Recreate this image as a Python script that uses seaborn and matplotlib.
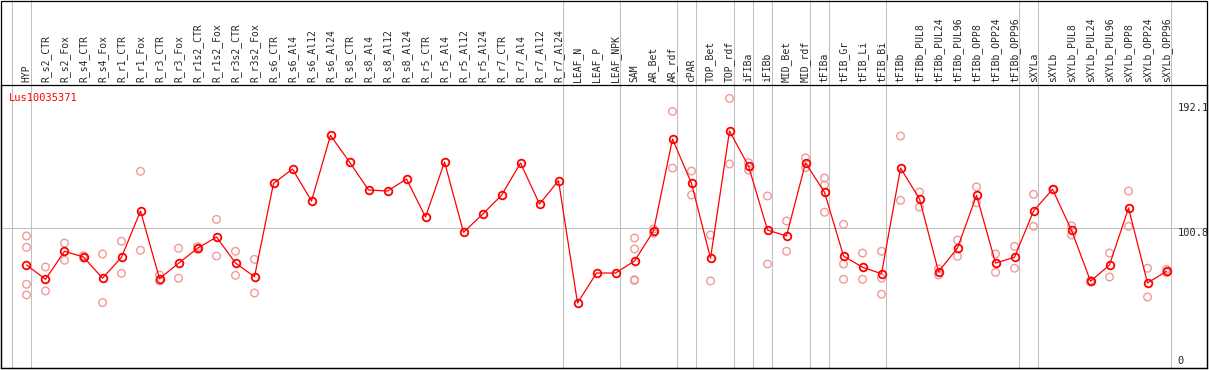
import pandas as pd
import matplotlib
matplotlib.use("Agg")
import matplotlib.pyplot as plt
import seaborn as sns

# Categorias (muestras)
categorias = [
    'HYP', 'R_s2_CTR', 'R_s2_Fox', 'R_s4_CTR', 'R_s4_Fox', 'R_r1_CTR', 'R_r1_Fox',
    'R_r3_CTR', 'R_r3_Fox', 'R_r1s2_CTR', 'R_r1s2_Fox', 'R_r3s2_CTR', 'R_r3s2_Fox',
    'R_s6_CTR', 'R_s6_Al4', 'R_s6_Al12', 'R_s6_Al24', 'R_s8_CTR', 'R_s8_Al4',
    'R_s8_Al12', 'R_s8_Al24', 'R_r5_CTR', 'R_r5_Al4', 'R_r5_Al12', 'R_r5_Al24',
    'R_r7_CTR', 'R_r7_Al4', 'R_r7_Al12', 'R_r7_Al24', 'LEAF_N', 'LEAF_P', 'LEAF_NPK',
    'SAM', 'AR_Bet', 'AR_rdf', 'cPAR', 'TOP_Bet', 'TOP_rdf', 'iFIBa', 'iFIBb',
    'MID_Bet', 'MID_rdf', 'tFIBa', 'tFIB_Gr', 'tFIB_Li', 'tFIB_Bi', 'tFIBb',
    'tFIBb_PUL8', 'tFIBb_PUL24', 'tFIBb_PUL96', 'tFIBb_OPP8', 'tFIBb_OPP24', 'tFIBb_OPP96',
    'sXYLa', 'sXYLb', 'sXYLb_PUL8', 'sXYLb_PUL24', 'sXYLb_PUL96', 'sXYLb_OPP8',
    'sXYLb_OPP24', 'sXYLb_OPP96'
]

# Promedios (linea roja)
promedios = [
    73.8, 63.3, 83.8, 79.6, 64.1, 79.4, 113.2, 63.8, 75.0, 86.0, 94.2, 75.2, 65.2,
    133.4, 143.9, 120.5, 168.5, 149.0, 128.6, 127.8, 136.6, 108.8, 149.0, 97.7, 110.8,
    124.7, 148.3, 118.3, 135.4, 46.0, 67.9, 67.9,
    76.7, 98.6, 165.8, 133.4, 78.7, 171.7, 146.1, 99.3, 95.0, 148.3, 126.9, 80.3,
    72.1, 67.4, 144.6, 122.0, 68.9, 86.2, 124.7, 75.2, 79.4,
    113.2, 129.1, 99.1, 61.9, 73.8, 115.4, 60.6, 69.2
]

# Replicas (circulos claros)
replicas = [
    [95.0, 86.7, 59.7, 51.9], [72.3, 54.8], [89.8, 77.2], [80.5, 78.8], [81.8, 46.3],
    [91.1, 67.7], [142.2, 84.5], [66.5, 62.1], [86.0, 64.1], [87.2, 85.2],
    [107.1, 80.3], [83.8, 66.2], [77.9, 53.3],
    [], [], [], [], [], [], [], [], [], [], [], [], [], [], [], [], [], [], [],
    [93.5, 85.5, 63.0, 62.5], [100.0, 97.0], [186.0, 144.6], [142.4, 124.9],
    [95.7, 62.1], [195.5, 147.6], [148.5, 143.2], [124.2, 74.5], [105.9, 83.8],
    [152.1, 144.9], [137.3, 132.2, 112.3], [103.5, 74.5, 63.3], [82.5, 63.3],
    [83.8, 64.1, 52.4], [168.0, 121.0], [127.1, 116.1], [71.0, 66.5], [92.0, 80.1],
    [130.8, 119.3], [81.8, 68.4], [87.4, 71.4],
    [125.4, 102.0], [129.1], [102.3, 95.7], [62.5, 61.3], [82.5, 65.0],
    [127.8, 102.0], [71.4, 50.4], [70.6, 68.2]
]

# Fin de cada grupo (separadores verticales)
fin_grupos = [-1, 0, 28, 31, 34, 35, 37, 38, 39, 41, 42, 45, 52, 53, 60]

df = pd.DataFrame({'pos': range(len(categorias)), 'valor': promedios})
filas = []
for i, vals in enumerate(replicas):
    for v in vals:
        filas.append({'pos': i, 'valor': v})
df_rep = pd.DataFrame(filas)

sns.set_style("white")
plt.rcParams['font.family'] = ['DejaVu Sans Mono']

fig = plt.figure(figsize=(12.09, 3.70), dpi=100)
ax = fig.add_axes([1 / 1209, 2 / 370, 1206 / 1209, 283 / 370])

gris = '#c0c0c0'
for g in fin_grupos:
    ax.axvline(g + 0.22, ymin=0, ymax=368 / 283, color=gris, lw=0.75, zorder=0, clip_on=False)
ax.axhline(100.8, color=gris, lw=0.75, zorder=0)

sns.scatterplot(data=df_rep, x='pos', y='valor', ax=ax, marker='o', s=30,
                facecolor='none', edgecolor='#f09a9a', linewidth=1.0, zorder=2)
sns.lineplot(data=df, x='pos', y='valor', ax=ax, color='red', lw=0.9,
             marker='o', markersize=5.5, markerfacecolor='none',
             markeredgecolor='red', markeredgewidth=1.3, zorder=3)

ax.set_xlim(-1.342, 62.13)
ax.set_ylim(-1.5, 205.3)

ax.xaxis.tick_top()
ax.set_xticks(range(len(categorias)))
ax.set_xticklabels(categorias, rotation=90, fontsize=7)
ax.tick_params(axis='x', length=0, pad=2)

ax.yaxis.tick_right()
ax.set_yticks([0, 100.8, 192.1])
ax.set_yticklabels(['0', '100.8', '192.1'], fontsize=7.5)
ax.tick_params(axis='y', length=0, pad=-21)
etiquetas = ax.get_yticklabels()
etiquetas[0].set_va('bottom')
etiquetas[1].set_va('top')
etiquetas[2].set_va('top')

ax.set_xlabel('')
ax.set_ylabel('')
for s in ax.spines.values():
    s.set_color('black')
    s.set_linewidth(0.9)

ax.text(0.0069, 0.972, 'Lus10035371', transform=ax.transAxes, color='red',
        fontsize=7.5, ha='left', va='top')

fig.add_artist(plt.Rectangle((1 / 1209, 2 / 370), 1206 / 1209, 367.5 / 370,
                             transform=fig.transFigure, fill=False, ec='black', lw=0.9))

fig.savefig('out.png', dpi=100)
